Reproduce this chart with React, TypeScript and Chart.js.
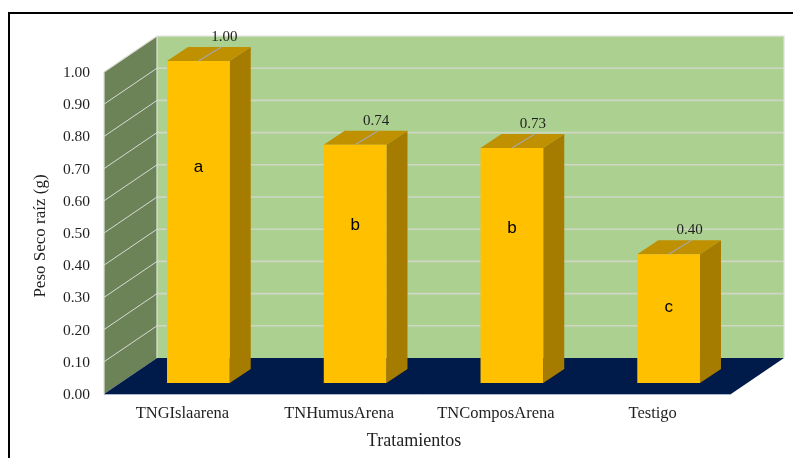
import React, { useEffect, useRef } from "react";
import { Chart, registerables } from "chart.js";

Chart.register(...registerables);

const categories = ["TNGIslaarena", "TNHumusArena", "TNComposArena", "Testigo"];
const pesoSecoRaiz = [1.0, 0.74, 0.73, 0.4];
const significance = ["a", "b", "b", "c"];
const significanceLevels = [0.67, 0.49, 0.48, 0.235];
const yTicks = [0, 0.1, 0.2, 0.3, 0.4, 0.5, 0.6, 0.7, 0.8, 0.9, 1.0];
const yTitle = "Peso Seco raíz (g)";
const xTitle = "Tratamientos";

const SERIF = '"Liberation Serif", "Times New Roman", serif';
const TEXT = "#1F1F1F";
const DEPTH_X = 53;
const DEPTH_Y = 36;
const BAR_SHIFT_X = 16;
const BAR_SHIFT_Y = 11;
const BAR_DEPTH_X = 21;
const BAR_DEPTH_Y = 14;

function poly(ctx: CanvasRenderingContext2D, fill: string, pts: number[][]) {
  ctx.beginPath();
  pts.forEach(([x, y], i) => (i ? ctx.lineTo(x, y) : ctx.moveTo(x, y)));
  ctx.closePath();
  ctx.fillStyle = fill;
  ctx.fill();
}

const scene3d = {
  id: "scene3d",
  beforeDraw(chart: any) {
    const { ctx } = chart;
    ctx.save();
    ctx.fillStyle = "#ffffff";
    ctx.fillRect(0, 0, chart.width, chart.height);
    ctx.strokeStyle = "#000000";
    ctx.lineWidth = 2;
    ctx.beginPath();
    ctx.moveTo(9, 458);
    ctx.lineTo(9, 13);
    ctx.lineTo(793, 13);
    ctx.stroke();
    ctx.restore();
  },
  beforeDatasetsDraw(chart: any) {
    const { ctx, scales } = chart;
    const y = scales.y;
    const l = scales.x.left;
    const r = scales.x.right;
    const y0 = y.getPixelForValue(0);
    const y1 = y.getPixelForValue(1);
    ctx.save();
    poly(ctx, "#ABD08F", [
      [l + DEPTH_X, y1 - DEPTH_Y],
      [r + DEPTH_X, y1 - DEPTH_Y],
      [r + DEPTH_X, y0 - DEPTH_Y],
      [l + DEPTH_X, y0 - DEPTH_Y],
    ]);
    poly(ctx, "#6C8358", [
      [l, y1],
      [l + DEPTH_X, y1 - DEPTH_Y],
      [l + DEPTH_X, y0 - DEPTH_Y],
      [l, y0],
    ]);
    poly(ctx, "#001A4A", [
      [l, y0],
      [r, y0],
      [r + DEPTH_X, y0 - DEPTH_Y],
      [l + DEPTH_X, y0 - DEPTH_Y],
    ]);
    yTicks.slice(1, -1).forEach((v) => {
      const p = y.getPixelForValue(v);
      ctx.strokeStyle = "#D9D9D9";
      ctx.lineWidth = 1;
      ctx.beginPath();
      ctx.moveTo(l, p);
      ctx.lineTo(l + DEPTH_X, p - DEPTH_Y);
      ctx.stroke();
      ctx.strokeStyle = "#CFD6C4";
      ctx.lineWidth = 1.6;
      ctx.beginPath();
      ctx.moveTo(l + DEPTH_X, p - DEPTH_Y);
      ctx.lineTo(r + DEPTH_X, p - DEPTH_Y);
      ctx.stroke();
    });
    ctx.strokeStyle = "#DDDFD8";
    ctx.lineWidth = 1.25;
    ctx.beginPath();
    ctx.moveTo(l, y0);
    ctx.lineTo(l, y1);
    ctx.lineTo(l + DEPTH_X, y1 - DEPTH_Y);
    ctx.lineTo(r + DEPTH_X, y1 - DEPTH_Y);
    ctx.lineTo(r + DEPTH_X, y0 - DEPTH_Y);
    ctx.moveTo(l + DEPTH_X, y1 - DEPTH_Y);
    ctx.lineTo(l + DEPTH_X, y0 - DEPTH_Y);
    ctx.stroke();
    ctx.strokeStyle = "#A9B6CC";
    ctx.lineWidth = 1;
    ctx.beginPath();
    ctx.moveTo(l, y0 + 0.5);
    ctx.lineTo(r, y0 + 0.5);
    ctx.stroke();

    chart.getDatasetMeta(0).data.forEach((bar: any) => {
      const half = bar.width / 2;
      const x2 = bar.x + half + BAR_SHIFT_X;
      const x1 = bar.x - half + BAR_SHIFT_X;
      const top = bar.y - BAR_SHIFT_Y;
      const base = bar.base - BAR_SHIFT_Y;
      poly(ctx, "#A67C00", [
        [x2, top],
        [x2 + BAR_DEPTH_X, top - BAR_DEPTH_Y],
        [x2 + BAR_DEPTH_X, base - BAR_DEPTH_Y],
        [x2, base],
      ]);
      poly(ctx, "#BF9000", [
        [x1, top],
        [x2, top],
        [x2 + BAR_DEPTH_X, top - BAR_DEPTH_Y],
        [x1 + BAR_DEPTH_X, top - BAR_DEPTH_Y],
      ]);
    });
    ctx.restore();
  },
  beforeDatasetDraw(chart: any) {
    chart.ctx.save();
    chart.ctx.translate(BAR_SHIFT_X, -BAR_SHIFT_Y);
  },
  afterDatasetDraw(chart: any) {
    chart.ctx.restore();
  },
  afterDatasetsDraw(chart: any) {
    const { ctx, scales } = chart;
    ctx.save();
    ctx.textAlign = "center";
    ctx.textBaseline = "middle";
    chart.getDatasetMeta(0).data.forEach((bar: any, i: number) => {
      const cx = bar.x + BAR_SHIFT_X;
      const top = bar.y - BAR_SHIFT_Y;
      ctx.strokeStyle = "#A6A6A6";
      ctx.lineWidth = 1.25;
      ctx.beginPath();
      ctx.moveTo(cx, top);
      ctx.lineTo(cx + BAR_DEPTH_X + 2, top - BAR_DEPTH_Y);
      ctx.stroke();

      ctx.fillStyle = TEXT;
      ctx.font = `15px ${SERIF}`;
      ctx.fillText(pesoSecoRaiz[i].toFixed(2), cx + (i === 0 ? 26 : 21), top - 24);

      ctx.fillStyle = "#000000";
      ctx.font = '17px "Liberation Sans", sans-serif';
      ctx.fillText(
        significance[i],
        cx,
        scales.y.getPixelForValue(significanceLevels[i]) - BAR_SHIFT_Y
      );
    });
    ctx.fillStyle = TEXT;
    ctx.font = `18px ${SERIF}`;
    ctx.fillText(xTitle, 414, 441);
    ctx.font = `17px ${SERIF}`;
    ctx.translate(41, 236);
    ctx.rotate(-Math.PI / 2);
    ctx.fillText(yTitle, 0, 0);
    ctx.restore();
  },
};

export default function App() {
  const ref = useRef<HTMLCanvasElement>(null);
  useEffect(() => {
    const chart = new Chart(ref.current as HTMLCanvasElement, {
      type: "bar",
      data: {
        labels: categories,
        datasets: [
          {
            label: yTitle,
            data: pesoSecoRaiz,
            backgroundColor: "#FFC000",
            barPercentage: 0.4,
            categoryPercentage: 1,
          },
        ],
      },
      plugins: [scene3d],
      options: {
        animation: false,
        responsive: false,
        layout: { padding: { top: 72, right: 62, left: 0, bottom: 0 } },
        plugins: { legend: { display: false }, tooltip: { enabled: false } },
        scales: {
          x: {
            grid: { display: false, drawTicks: false },
            border: { display: false },
            ticks: { color: TEXT, font: { family: SERIF, size: 16.5 }, padding: 10, maxRotation: 0 },
            afterFit: (s: any) => {
              s.height = 64;
            },
          },
          y: {
            min: 0,
            max: 1,
            grid: { display: false, drawTicks: false },
            border: { display: false },
            afterBuildTicks: (s: any) => {
              s.ticks = yTicks.map((value) => ({ value }));
            },
            ticks: {
              color: TEXT,
              font: { family: SERIF, size: 15.5 },
              padding: 14,
              labelOffset: 1,
              callback: (v: any) => Number(v).toFixed(2),
            },
            afterFit: (s: any) => {
              s.width = 104;
            },
          },
        },
      },
    } as any);
    return () => chart.destroy();
  }, []);
  return (
    <div style={{ position: "fixed", left: 0, top: 0, width: 793, height: 458 }}>
      <canvas ref={ref} width={793} height={458} style={{ display: "block" }} />
    </div>
  );
}
